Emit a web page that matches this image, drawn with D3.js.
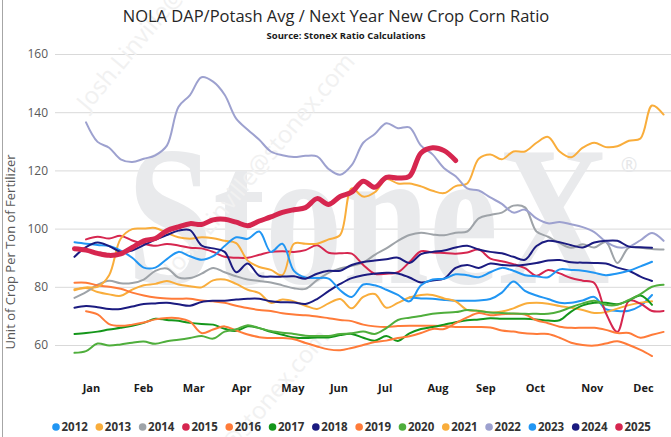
<!DOCTYPE html>
<html>
<head>
<meta charset="utf-8">
<script src="https://cdn.jsdelivr.net/npm/d3@7"></script>
<style>
  body { margin: 0; background: #fff; }
  svg { display: block; font-family: "Open Sans", "Noto Sans", sans-serif; }
</style>
</head>
<body>
<svg width="671" height="437"></svg>
<script>
// day of year for each weekly reading
const days = [4,11,18,25,32,39,46,53,60,67,74,81,88,95,102,109,116,123,130,137,144,151,158,165,172,179,
  186,193,200,207,214,221,228,235,242,249,256,263,270,277,284,291,298,305,312,319,326,333,340,347,354,361];

const monthNames = ["Jan","Feb","Mar","Apr","May","Jun","Jul","Aug","Sep","Oct","Nov","Dec"];
const monthTickDays = [14,45.5,76,105,136,164,192,224,253,283,317.5,348.5];
const yTicks = [60,80,100,120,140,160];

const seriesNames = ["2012","2013","2014","2015","2016","2017","2018","2019","2020","2021","2022","2023","2024","2025"];
const seriesColors = ["#2196f3","#f9ad3b","#9ea3a8","#d6264f","#ff7b39","#14961a","#1b1b80",
  "#ff7b39","#4fae3c","#f9ad3b","#9da1cf","#2196f3","#1b1b80","#d6264f"];

const v2012 = [null,null,null,null,null,null,null,null,null,null,null,null,null,
  null,null,null,null,null,null,null,null,null,null,null,null,null,
  null,null,null,76.3,76.0,75.9,75.5,75.2,75.2,75.3,75.8,78.0,81.8,
  78.6,77.0,75.8,74.5,74.5,75.3,76.5,72.3,71.7,71.8,73.5,77.2,null];
const v2013 = [78.8,79.6,78.2,77.4,76.9,79.0,80.5,81.0,82.0,80.8,80.2,79.8,82.2,
  82.5,81.0,79.0,77.8,74.5,75.6,75.0,73.5,72.4,74.3,75.8,72.6,76.5,
  77.5,72.8,74.5,76.3,77.2,77.2,76.0,75.0,72.0,71.8,71.2,71.5,72.6,
  74.2,74.5,74.2,73.4,72.8,72.0,71.0,71.3,72.5,73.7,74.5,75.0,null];
const v2014 = [76.2,78.2,80.7,82.1,81.2,81.3,82.5,85.5,86.3,83.2,83.0,84.5,86.5,
  85.0,83.6,82.5,82.0,81.5,80.5,79.5,79.3,82.3,84.8,86.3,87.2,88.3,
  91.0,93.2,95.8,97.8,98.6,98.0,97.7,98.6,99.0,103.5,104.7,105.5,107.9,
  107.3,99.0,97.2,95.0,93.4,94.6,93.5,95.4,88.2,93.5,93.4,93.0,92.8];
const v2015 = [null,96.3,97.2,96.6,97.5,95.9,94.8,94.1,94.7,94.2,93.4,93.2,92.0,
  90.3,90.0,90.0,91.0,92.0,92.2,92.0,92.6,94.3,91.7,91.5,91.4,87.5,
  84.5,84.5,85.0,88.5,92.2,91.8,91.6,91.4,91.8,92.8,89.7,88.8,87.8,
  86.4,83.8,85.8,84.6,83.0,82.1,81.3,71.0,64.5,75.2,74.2,71.7,71.7];
const v2016 = [81.4,81.4,80.5,80.0,79.3,78.0,77.0,76.3,76.0,75.9,75.9,75.3,75.0,
  74.5,73.5,72.7,72.0,71.7,70.9,70.5,70.2,69.8,69.2,68.6,68.2,67.0,
  66.4,66.2,66.5,66.6,66.6,66.6,66.5,66.2,66.2,66.2,66.0,65.0,64.6,
  64.0,63.8,63.8,62.5,60.8,60.0,59.8,60.5,61.3,60.0,58.3,56.2,null];
const v2017 = [63.8,64.1,64.6,65.3,65.9,66.6,67.6,69.0,68.6,68.3,67.6,67.2,67.0,
  65.6,64.8,66.4,65.8,64.5,63.5,62.6,62.4,62.6,62.6,63.4,63.8,62.5,
  61.5,63.1,61.4,64.0,65.5,66.2,67.0,67.8,68.5,68.8,69.2,69.0,69.0,
  69.0,68.8,68.4,68.5,71.5,73.6,74.5,74.5,74.0,75.3,77.0,73.8,null];
const v2018 = [72.8,73.4,73.0,72.4,72.4,73.2,74.1,74.3,74.5,74.0,73.5,74.8,75.2,
  75.2,75.6,75.9,75.9,75.0,74.7,74.6,74.1,75.8,78.5,81.0,83.0,84.0,
  84.5,84.8,84.6,83.2,81.5,82.2,82.8,86.5,87.5,86.5,88.0,87.5,87.3,
  87.6,88.2,89.0,89.2,88.4,88.3,88.2,88.0,86.6,85.5,83.5,82.0,null];
const v2019 = [null,71.6,70.5,67.2,66.6,67.0,67.7,68.8,69.3,69.2,68.0,64.1,65.3,
  66.4,65.0,63.6,62.7,62.4,62.4,62.0,60.7,59.5,58.5,58.2,59.0,60.0,
  61.0,61.5,62.4,63.0,64.1,65.5,65.5,67.5,69.5,71.0,70.2,70.6,70.7,
  70.5,68.5,67.5,66.3,65.9,65.9,65.9,65.2,64.1,64.1,62.5,63.5,64.5];
const v2020 = [57.3,57.9,60.5,59.8,60.2,60.8,61.2,60.4,61.3,61.8,62.4,63.1,62.2,
  64.6,65.4,66.8,65.8,64.8,64.2,63.8,63.2,63.1,63.1,63.8,64.0,64.6,
  63.8,65.8,68.6,69.4,70.0,70.7,71.1,71.3,72.0,71.7,71.2,71.0,70.8,
  70.7,70.7,70.7,71.5,73.0,74.3,75.2,73.8,73.8,75.5,77.5,80.0,80.7];
const v2021 = [79.2,79.8,80.0,84.0,96.5,99.8,100.0,100.2,98.5,97.0,96.5,97.0,96.7,
  95.8,95.0,89.0,86.8,85.8,84.0,94.8,94.8,94.8,96.3,97.8,113.8,111.0,
  112.5,117.0,115.5,115.5,114.5,113.0,112.2,114.6,115.5,124.0,125.5,123.8,126.5,
  126.5,129.5,131.5,126.5,124.5,127.8,129.5,128.0,128.3,130.2,131.0,142.3,139.2];
const v2022 = [null,136.5,129.8,127.8,123.8,122.9,124.0,125.2,128.5,141.8,145.9,152.0,150.5,
  146.0,137.8,134.0,130.5,126.5,125.2,124.6,125.0,124.8,120.5,118.5,121.8,129.5,
  132.5,136.2,134.5,134.8,128.5,125.5,120.7,118.0,113.8,113.1,110.7,108.5,105.5,
  106.5,103.5,101.8,102.3,101.5,100.5,98.8,95.5,93.6,93.8,96.0,98.5,95.8];
const v2023 = [95.3,94.8,94.4,94.0,92.4,90.0,86.6,86.6,89.5,92.0,90.5,89.3,90.5,
  94.0,97.0,96.5,99.0,92.0,94.8,85.5,83.2,83.0,82.8,78.8,76.5,80.8,
  80.5,79.0,77.2,75.0,80.5,82.5,82.8,84.3,84.0,83.3,85.0,86.5,85.5,
  84.0,83.6,83.3,86.0,85.8,85.5,84.8,84.0,84.6,85.5,87.0,88.6,null];
const v2024 = [90.3,93.6,95.2,94.0,92.0,92.5,94.3,96.2,97.8,99.3,99.5,94.2,93.2,
  92.0,85.0,88.0,83.8,83.5,83.5,83.6,82.8,84.5,85.5,85.5,87.5,88.5,
  89.0,89.5,90.0,88.2,91.2,92.0,92.5,93.5,94.1,92.8,92.0,91.5,90.3,
  89.3,94.0,95.8,95.3,94.3,93.5,95.2,95.8,95.8,93.8,93.6,93.4,null];
const v2025 = [93.1,92.6,91.5,90.8,91.3,93.5,95.8,96.6,99.3,100.6,101.7,101.4,103.0,
  103.2,102.2,101.0,102.6,104.0,105.6,106.5,107.2,110.3,108.3,111.0,112.5,116.3,
  114.2,117.6,117.4,118.0,126.0,127.8,126.8,123.4,null,null,null,null,null,
  null,null,null,null,null,null,null,null,null,null,null,null,null];

const seriesValues = [v2012,v2013,v2014,v2015,v2016,v2017,v2018,v2019,v2020,v2021,v2022,v2023,v2024,v2025];

const svg = d3.select("svg");
const plotLeft = 55, plotRight = 671;

let x = d3.scaleLinear().domain([-7.8, 365.5]).range([plotLeft, plotRight]);
let y = d3.scaleLinear().domain([60, 160]).range([345, 54]);

// frame line on the left
svg.append("line")
  .attr("x1", 2.5).attr("x2", 2.5).attr("y1", 0).attr("y2", 437)
  .attr("stroke", "#a6a6a6");

// gridlines + y labels
let yAxis = d3.axisLeft(y).tickValues(yTicks).tickSize(-(plotRight - plotLeft)).tickPadding(7);
let gy = svg.append("g").attr("transform", `translate(${plotLeft},0)`).call(yAxis);
gy.select(".domain").remove();
gy.selectAll(".tick line").attr("stroke", "#d9d9d9");
gy.selectAll(".tick text").attr("fill", "#595959").attr("font-size", "12px")
  .attr("font-family", "Open Sans, sans-serif");

// watermarks
let wm = svg.append("g").attr("pointer-events", "none");
wm.append("text")
  .attr("x", 127).attr("y", 283)
  .attr("font-family", "Liberation Serif, serif")
  .attr("font-weight", "bold")
  .attr("font-size", 200)
  .attr("textLength", 483)
  .attr("lengthAdjust", "spacingAndGlyphs")
  .attr("fill", "#e9eaec")
  .text("StoneX");
wm.append("text")
  .attr("x", 629).attr("y", 172)
  .attr("text-anchor", "middle")
  .attr("font-size", 20)
  .attr("fill", "#e6e7e9")
  .text("®");

const emailMarks = [
  { x: 88, y: 112, anchor: "start" },
  { x: 356, y: 62, anchor: "end" },
  { x: 330, y: 338, anchor: "end" }
];
emailMarks.forEach(m => {
  wm.append("text")
    .attr("transform", `translate(${m.x},${m.y}) rotate(-50)`)
    .attr("text-anchor", m.anchor)
    .attr("font-size", 24)
    .attr("fill", "#f1f1f1")
    .text("Josh.Linville@stonex.com");
});

// month labels
let xAxis = d3.axisBottom(x).tickValues(monthTickDays)
  .tickFormat((d, i) => monthNames[i]).tickSize(0).tickPadding(0);
let gx = svg.append("g").attr("transform", "translate(0,384)").call(xAxis);
gx.select(".domain").remove();
gx.selectAll(".tick text").attr("fill", "#1a1a1a").attr("font-size", "11px")
  .attr("font-weight", "bold").attr("font-family", "Open Sans, sans-serif");

// series lines
let line = d3.line()
  .defined(d => d != null)
  .x((d, j) => x(days[j]))
  .y(d => y(d))
  .curve(d3.curveCatmullRom.alpha(0.5));

seriesValues.forEach((vals, i) => {
  svg.append("path")
    .datum(vals)
    .attr("fill", "none")
    .attr("stroke", seriesColors[i])
    .attr("stroke-width", seriesNames[i] === "2025" ? 5 : 2)
    .attr("stroke-linecap", "round")
    .attr("stroke-linejoin", "round")
    .attr("d", line);
});

// title
svg.append("text")
  .attr("x", 336).attr("y", 22)
  .attr("text-anchor", "middle")
  .attr("font-size", "16.5px")
  .attr("fill", "#262626")
  .text("NOLA DAP/Potash Avg / Next Year New Crop Corn Ratio");

svg.append("text")
  .attr("x", 346).attr("y", 39)
  .attr("text-anchor", "middle")
  .attr("font-size", "9.5px")
  .attr("font-weight", "bold")
  .attr("fill", "#1a1a1a")
  .text("Source: StoneX Ratio Calculations");

// y axis title
svg.append("text")
  .attr("transform", "translate(15,252) rotate(-90)")
  .attr("text-anchor", "middle")
  .attr("font-size", "13px")
  .attr("fill", "#595959")
  .text("Unit of Crop Per Ton of Fertilizer");

// legend
let lx = d3.scalePoint().domain(seriesNames).range([56, 619]);
let legend = svg.append("g").attr("transform", "translate(0,427)");
let items = legend.selectAll("g").data(seriesNames).enter().append("g")
  .attr("transform", d => `translate(${lx(d)},0)`);
items.append("circle")
  .attr("r", 3.8)
  .attr("fill", (d, i) => seriesColors[i]);
items.append("text")
  .attr("x", 5.5)
  .attr("dy", "0.35em")
  .attr("font-size", "11.5px")
  .attr("font-weight", "bold")
  .attr("fill", "#333")
  .text(d => d);
</script>
</body>
</html>
